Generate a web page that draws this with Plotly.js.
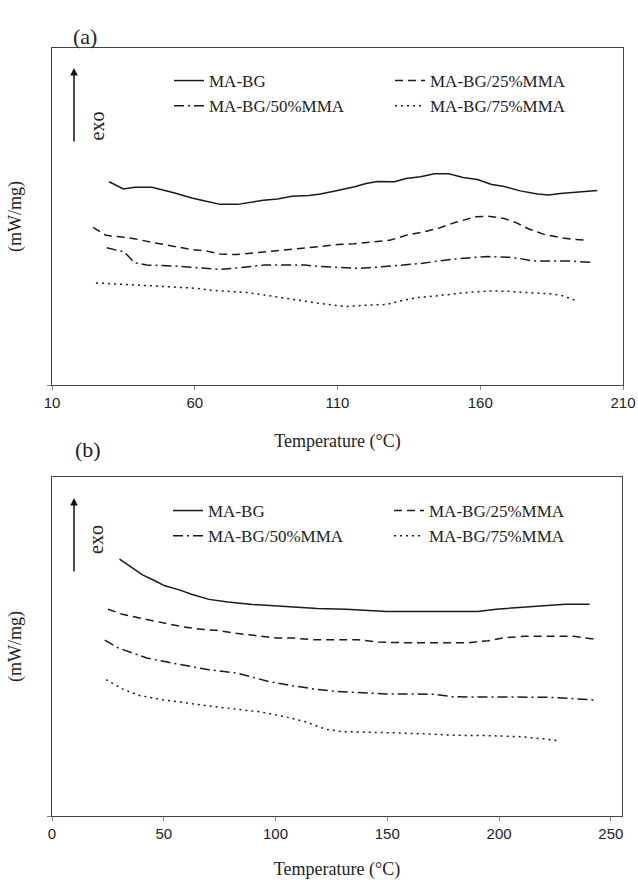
<!DOCTYPE html>
<html>
<head>
<meta charset="utf-8">
<script src="https://cdn.plot.ly/plotly-3.0.1.min.js"></script>
<style>html,body{margin:0;padding:0;background:#fff;}#chart{width:638px;height:880px;}</style>
</head>
<body>
<div id="chart"></div>
<script>
// ---------- Panel (a) ----------
const aBG_x   = [30,35,39,45,53,59,64,69,75,79,84,89,94,100,104,110,116,120,124,130,134,139,144,149,154,159,164,168,174,180,184,188,194,201];
const aBG_y   = [60.3,58.2,58.7,58.7,57.0,55.5,54.5,53.6,53.6,54.1,54.8,55.2,56.0,56.2,56.7,57.7,58.8,59.8,60.4,60.3,61.3,61.8,62.7,62.7,61.6,61.0,59.5,59.0,57.6,56.7,56.4,56.8,57.2,57.7];
const a25_x   = [24.4,28.9,34.6,38.9,44.6,53.1,58.8,64.5,68.8,74.5,78.8,84.4,90.1,95.8,103,110.1,115.8,122.9,128.6,134.3,140,145.7,151.4,158.5,162.7,168.4,172.7,177,182.7,188.4,192.6,196.9];
const a25_y   = [46.8,44.4,43.9,43.4,42.4,41.0,40.2,39.7,38.9,38.7,39.0,39.6,39.8,40.4,41.0,41.7,41.9,42.5,43.0,44.5,45.4,46.6,48.3,49.9,50.1,49.4,48.1,46.3,44.6,43.7,43.2,43.0];
const a50_x   = [29.2,35.3,38.9,43.2,53.1,58.8,64.5,68.8,74.5,84.4,91.6,98.7,103,110.1,117.2,122.9,130,138.5,145.7,151.4,158.5,162.7,169.9,174.1,178.4,185.5,191.2,199];
const a50_y   = [40.7,39.5,36.3,35.6,35.3,35.0,34.7,34.3,34.7,35.6,35.6,35.6,35.2,35.0,34.6,34.9,35.4,36.0,36.8,37.4,37.9,38.1,37.9,37.5,36.8,36.8,36.8,36.4];
const a75_x   = [25.4,30.4,36.1,43.2,51.7,60.2,65.9,71.6,78.8,84.4,91.6,97.3,103,108.6,112.9,118.6,127.2,132.8,138.5,144.2,149.9,157,164.2,169.9,177,184.1,188.4,194.1];
const a75_y   = [30.3,30.0,29.8,29.5,29.2,28.7,28.1,27.7,27.4,26.7,25.7,24.9,24.3,23.7,23.3,23.6,23.9,25.1,26.0,26.4,27.0,27.6,27.9,27.8,27.4,27.1,26.6,24.9];

// ---------- Panel (b) ----------
const bBG_x   = [30.2,35.1,40.5,46,50.5,56.9,62.4,70.2,78.7,89.6,100.5,107.8,118.7,131.5,140.5,149.6,158.7,176.9,190.5,198.7,209.6,218.7,229.6,240.5];
const bBG_y   = [75.8,73.5,71.1,69.4,67.9,66.7,65.4,63.9,63.1,62.4,62.0,61.6,61.2,61.0,60.7,60.3,60.3,60.3,60.3,61.0,61.5,61.9,62.5,62.5];
const b25_x   = [25.1,31.5,40.5,49.6,58.7,67.8,73.3,82.4,91.5,100.5,107.8,116.9,136.9,146,158.7,186,195.1,202.4,211.5,220.5,233.3,244.2];
const b25_y   = [61.0,59.5,58.2,57.0,55.8,55.0,54.8,53.9,53.1,52.5,52.5,52.0,52.0,51.3,51.1,51.1,51.7,52.6,53.0,53.0,53.0,52.0];
const b50_x   = [23.6,29.6,35.1,42.4,51.5,60.5,69.6,82.4,89.6,96.9,107.8,118.7,127.8,136.9,149.6,158.7,171.5,178.7,186,204.2,222.4,231.5,243.3];
const b50_y   = [51.9,49.6,48.3,46.6,45.4,44.2,43.2,42.2,41.0,39.7,38.4,37.3,36.7,36.4,36.0,36.0,35.9,35.2,35.1,35.1,35.0,34.7,34.2];
const b75_x   = [24.2,31.5,38.7,49.6,60.5,71.5,82.4,93.3,104.2,113.3,122.4,129.6,140.5,155.1,167.8,180.5,195.1,209.6,220.5,226.9];
const b75_y   = [40.2,37.5,35.6,34.3,33.3,32.3,31.5,30.7,29.3,27.8,25.6,24.9,24.8,24.5,24.2,23.8,23.7,23.4,22.7,22.2];

const seriesNames = ['MA-BG','MA-BG/25%MMA','MA-BG/50%MMA','MA-BG/75%MMA'];
const dashes = ['solid','8px,5px','10px,4px,2px,4px','2px,4px'];
const xTicksA = [10,60,110,160,210];
const xTicksB = [0,50,100,150,200,250];

const lineColor = '#1a1a1a';
const serif = 'Liberation Serif, Times New Roman, serif';
const sans = 'Liberation Sans, Arial, sans-serif';

function mk(x, y, i, xa, ya, leg) {
  return {x: x, y: y, type: 'scatter', mode: 'lines', name: seriesNames[i],
    xaxis: xa, yaxis: ya, legend: leg,
    line: {color: lineColor, width: 1.5, dash: dashes[i]}};
}

const data = [
  mk(aBG_x, aBG_y, 0, 'x', 'y', 'legend'),
  mk(a25_x, a25_y, 1, 'x', 'y', 'legend'),
  mk(a50_x, a50_y, 2, 'x', 'y', 'legend'),
  mk(a75_x, a75_y, 3, 'x', 'y', 'legend'),
  mk(bBG_x, bBG_y, 0, 'x2', 'y2', 'legend2'),
  mk(b25_x, b25_y, 1, 'x2', 'y2', 'legend2'),
  mk(b50_x, b50_y, 2, 'x2', 'y2', 'legend2'),
  mk(b75_x, b75_y, 3, 'x2', 'y2', 'legend2')
];

const W = 638, H = 880;
const px = v => v / W;
const py = v => (H - v) / H;

const axisCommon = {
  showline: true, mirror: true, linecolor: '#444', linewidth: 1.4,
  showgrid: false, zeroline: false, ticks: 'outside', ticklen: 4, tickcolor: '#888',
  tickfont: {family: sans, size: 15, color: '#222'}
};

const legCommon = {
  orientation: 'h', xanchor: 'left', yanchor: 'top',
  bgcolor: 'rgba(0,0,0,0)', borderwidth: 0,
  entrywidth: 176, entrywidthmode: 'pixels',
  font: {family: serif, size: 17, color: '#222'}, traceorder: 'normal'
};

const titleFont = {family: serif, size: 18, color: '#222'};

const layout = {
  width: W, height: H,
  margin: {l: 0, r: 0, t: 0, b: 0},
  paper_bgcolor: '#fff', plot_bgcolor: '#fff',
  showlegend: true,
  xaxis: Object.assign({}, axisCommon, {
    domain: [px(52), px(623)], range: [10, 210], tickvals: xTicksA, anchor: 'y',
    title: {text: 'Temperature (°C)', font: titleFont, standoff: 24}
  }),
  yaxis: Object.assign({}, axisCommon, {
    domain: [py(385), py(48)], range: [0, 100], tickvals: [0], showticklabels: false, anchor: 'x',
    title: {text: '(mW/mg)', font: titleFont, standoff: 20}
  }),
  xaxis2: Object.assign({}, axisCommon, {
    domain: [px(52), px(622)], range: [0, 255], tickvals: xTicksB, anchor: 'y2',
    title: {text: 'Temperature (°C)', font: titleFont, standoff: 24}
  }),
  yaxis2: Object.assign({}, axisCommon, {
    domain: [py(816), py(477)], range: [0, 100], tickvals: [0], showticklabels: false, anchor: 'x2',
    title: {text: '(mW/mg)', font: titleFont, standoff: 20}
  }),
  legend: Object.assign({}, legCommon, {x: px(169), y: py(63)}),
  legend2: Object.assign({}, legCommon, {x: px(168), y: py(493)}),
  annotations: [
    {xref: 'paper', yref: 'paper', x: px(71), y: py(22), text: '(a)', showarrow: false,
     font: {family: serif, size: 22, color: '#222'}},
    {xref: 'paper', yref: 'paper', x: px(73), y: py(449), text: '(b)', showarrow: false,
     font: {family: serif, size: 22, color: '#222'}},
    {xref: 'paper', yref: 'paper', x: px(74), y: py(68), ax: 0, ay: 75, text: '', showarrow: true,
     arrowhead: 2, arrowsize: 1, arrowwidth: 1.5, arrowcolor: '#111'},
    {xref: 'paper', yref: 'paper', x: px(74), y: py(498), ax: 0, ay: 75, text: '', showarrow: true,
     arrowhead: 2, arrowsize: 1, arrowwidth: 1.5, arrowcolor: '#111'},
    {xref: 'paper', yref: 'paper', x: px(83), y: py(110), text: 'exo', textangle: -90, showarrow: false,
     font: {family: serif, size: 20, color: '#222'}},
    {xref: 'paper', yref: 'paper', x: px(83), y: py(540), text: 'exo', textangle: -90, showarrow: false,
     font: {family: serif, size: 20, color: '#222'}}
  ]
};

Plotly.newPlot('chart', data, layout, {displayModeBar: false, staticPlot: true});
</script>
</body>
</html>
